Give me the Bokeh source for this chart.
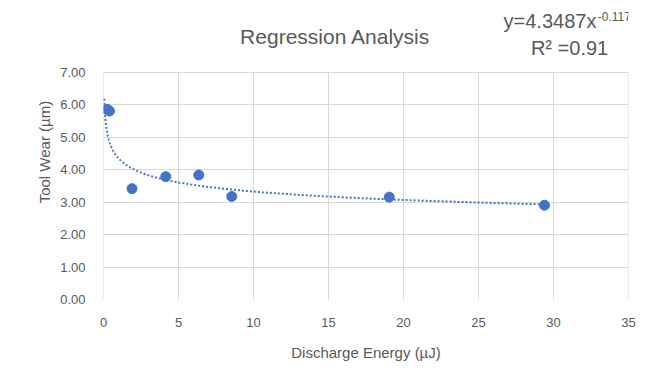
import numpy as np
from bokeh.plotting import figure
from bokeh.models import Label, NumeralTickFormatter, FixedTicker, Range1d
from bokeh.embed import file_html
from bokeh.resources import INLINE

# Data
energy = [0.25, 0.4, 1.9, 4.15, 6.35, 8.55, 19.05, 29.4]   # Discharge energy (µJ)
wear = [5.85, 5.8, 3.41, 3.78, 3.83, 3.17, 3.15, 2.90]      # Tool wear (µm)

# Power-law trendline y = a * x^b
trend_a = 4.3487
trend_b = -0.117
trend_x_start = 0.05
trend_x_end = 29.5
r_squared = 0.91

x_ticks = [0, 5, 10, 15, 20, 25, 30, 35]
y_ticks = [0, 1, 2, 3, 4, 5, 6, 7]
x_min, x_max = 0, 35
y_min, y_max = 0, 7
y_view_max = 9.2   # extra room above the plot area for the title / equation

BLUE = "#4472C4"
GREY = "#595959"
GRID = "#d9d9d9"
FONT = "Liberation Sans"

p = figure(width=649, height=363, output_backend="svg", toolbar_location=None,
           x_range=Range1d(x_min, x_max), y_range=Range1d(y_min, y_view_max),
           min_border_left=103, min_border_right=21, min_border_top=0, min_border_bottom=62)

p.outline_line_color = None
p.background_fill_color = "white"
p.border_fill_color = "white"

# Plot-area gridlines (vertical drawn only over the 0..7 value range)
p.xgrid.visible = False
p.segment(x0=x_ticks, y0=[y_min] * len(x_ticks), x1=x_ticks, y1=[y_max] * len(x_ticks),
          line_color=GRID, line_width=1)
p.ygrid.ticker = FixedTicker(ticks=y_ticks)
p.ygrid.grid_line_color = GRID

# Trendline
tx = np.geomspace(trend_x_start, trend_x_end, 300)
ty = trend_a * tx ** trend_b
p.line(tx, ty, line_color=BLUE, line_width=2, line_dash="2 2")

# Points
p.scatter(energy, wear, size=10, color=BLUE)

# Axes
for ax in (p.xaxis[0], p.yaxis[0]):
    ax.axis_line_color = None
    ax.major_tick_line_color = None
    ax.minor_tick_line_color = None
    ax.major_label_text_color = GREY
    ax.major_label_text_font = FONT
    ax.major_label_text_font_size = "13px"
    ax.axis_label_text_color = GREY
    ax.axis_label_text_font = FONT
    ax.axis_label_text_font_size = "15px"
    ax.axis_label_text_font_style = "normal"

p.xaxis.ticker = FixedTicker(ticks=x_ticks)
p.yaxis.ticker = FixedTicker(ticks=y_ticks)
p.yaxis.bounds = (y_min, y_max)
p.yaxis.formatter = NumeralTickFormatter(format="0.00")
p.xaxis.axis_label = "Discharge Energy (µJ)"
p.yaxis.axis_label = "Tool Wear  (µm)"
p.yaxis.major_label_standoff = 12
p.xaxis.major_label_standoff = 12
p.yaxis.axis_label_standoff = 4
p.xaxis.axis_label_standoff = 14

# Title and equation labels
p.add_layout(Label(x=15.45, y=8.10, text="Regression Analysis", text_font=FONT,
                   text_font_size="21px", text_color=GREY, text_align="center",
                   text_baseline="middle"))
p.add_layout(Label(x=26.67, y=8.56, text=f"y={trend_a}x", text_font=FONT,
                   text_font_size="20px", text_color=GREY, text_align="left",
                   text_baseline="middle"))
p.add_layout(Label(x=32.95, y=8.72, text=f"{trend_b}", text_font=FONT,
                   text_font_size="12px", text_color=GREY, text_align="left",
                   text_baseline="middle"))
p.add_layout(Label(x=31.07, y=7.74, text=f"R² ={r_squared}", text_font=FONT,
                   text_font_size="20px", text_color=GREY, text_align="center",
                   text_baseline="middle"))

open("out.html", "w").write(file_html(p, INLINE))
